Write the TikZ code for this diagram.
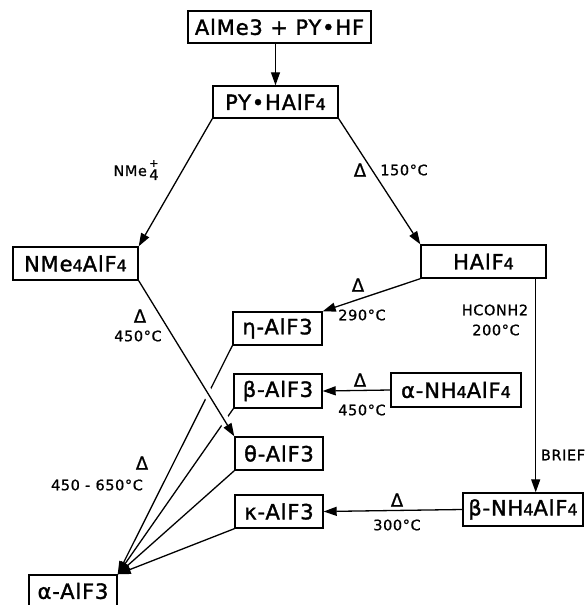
\documentclass[tikz,border=0pt]{standalone}
\usepackage{fontspec}
\setmainfont{DejaVu Sans}[LetterSpace=5]
\newfontfamily\boxfont{DejaVu Sans}[LetterSpace=4,FakeBold=1.6]
\newfontfamily\lblfont{DejaVu Sans}[LetterSpace=4,FakeBold=0.8]
\usetikzlibrary{arrows.meta,calc}
\newcommand\sfour{{\fontsize{16pt}{16pt}\selectfont 4}}
\newcommand\dlt{{\fontsize{18pt}{18pt}\selectfont Δ}}
\begin{document}
\begin{tikzpicture}[x=1pt,y=-1pt,
  box/.style={draw,line width=1.4pt,inner sep=0pt,font=\boxfont\fontsize{21pt}{21pt}\selectfont},
  lbl/.style={font=\lblfont\fontsize{14.5pt}{15pt}\selectfont,inner sep=0pt},
  arr/.style={line width=1.3pt,-{Triangle[length=13pt,width=9pt]}}]
\useasboundingbox (0,0) rectangle (587,605);
% boxes
\node[box,minimum width=183pt,minimum height=32pt] (top) at (279.5,27) {AlMe3 + PY•HF};
\node[box,minimum width=125pt,minimum height=32pt] (py) at (275.5,102) {PY•HAlF\sfour};
\node[box,minimum width=125pt,minimum height=33pt] (nme) at (75.5,263.5) {NMe\sfour AlF\sfour};
\node[box,minimum width=125pt,minimum height=33pt] (hal) at (483.5,261.5) {HAlF\sfour};
\node[box,minimum width=89pt,minimum height=33pt] (eta) at (277.5,328.5) {η-AlF3};
\node[box,minimum width=88pt,minimum height=34pt] (beta) at (278,391) {β-AlF3};
\node[box,minimum width=88pt,minimum height=33pt] (theta) at (279,453.5) {θ-AlF3};
\node[box,minimum width=88pt,minimum height=33pt] (kappa) at (279,511.5) {κ-AlF3};
\node[box,minimum width=130pt,minimum height=34pt] (anh) at (456,390) {α-NH\sfour AlF\sfour};
\node[box,minimum width=120pt,minimum height=33pt] (bnh) at (523,509.5) {β-NH\sfour AlF\sfour};
\node[box,minimum width=88pt,minimum height=32pt] (alpha) at (73,591) {α-AlF3};
% connectors
\draw[arr] (top.south -| py.north) -- (py.north);
\draw[arr] (py.south west) -- (nme.north east);
\draw[arr] (py.south east) -- (hal.north west);
\draw[arr] (hal.south west) -- (eta.north east);
\draw[arr] (anh.west) -- (beta.east);
\coordinate (hv) at ($(hal.south east)+(-11,0)$);
\draw[arr] (hv) -- (hv |- bnh.north);
\draw[arr] (bnh.west) -- (kappa.east);
\draw[arr] (eta.south west) -- (alpha.north east);
\draw[arr] (beta.south west) -- (alpha.north east);
\draw[arr] (theta.south west) -- (alpha.north east);
\draw[arr] (kappa.south west) -- (alpha.north east);
\draw[white,line width=10pt,shorten <=8pt,shorten >=13pt] (nme.south east) -- (theta.north west);
\draw[arr] (nme.south east) -- (theta.north west);
% labels
\node[lbl] (l1) at (136,170) {NMe\,\rlap{\raisebox{9pt}{\fontsize{11pt}{11pt}\selectfont +}}\raisebox{-4pt}{4}};
\node[lbl] (l2) at (360,170) {\dlt};
\node[lbl] (l3) at (404,170) {150°C};
\node[lbl] (l4) at (358,285) {\dlt};
\node[lbl] (l5) at (362,315) {290°C};
\node[lbl] (l6) at (140,316) {\dlt};
\node[lbl] (l7) at (138,336) {450°C};
\node[lbl] (l8) at (495,310) {HCONH2};
\node[lbl] (l9) at (496,330) {200°C};
\node[lbl] (l10) at (360,380) {\dlt};
\node[lbl] (l11) at (362,410) {450°C};
\node[lbl] (l12) at (563,455) {BRIEF};
\node[lbl] (l13) at (142,463) {\dlt};
\node[lbl] (l14) at (97,485) {450 - 650°C};
\node[lbl] (l15) at (397,500) {\dlt};
\node[lbl] (l16) at (397,525) {300°C};
\end{tikzpicture}
\end{document}
